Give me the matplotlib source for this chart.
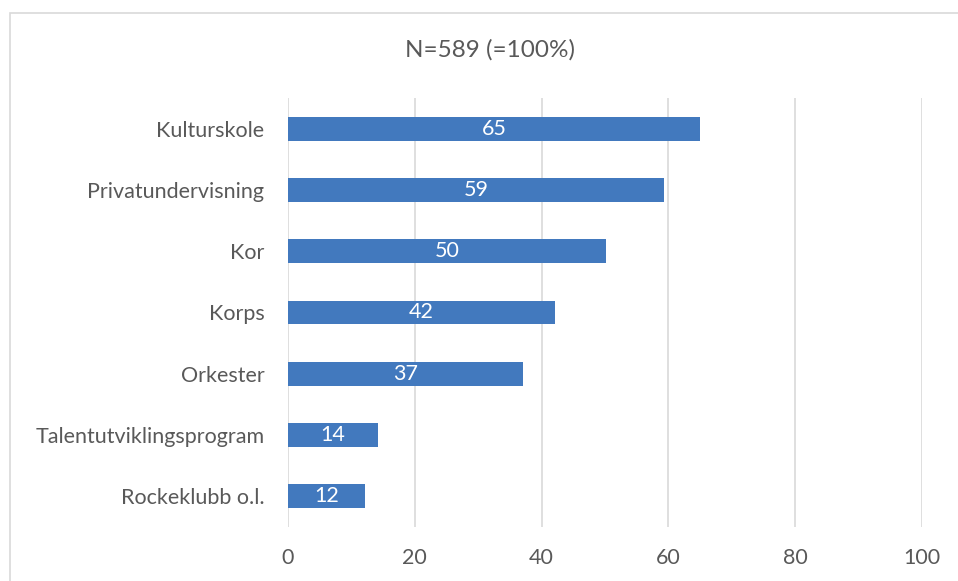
import matplotlib
matplotlib.use("Agg")
import matplotlib.pyplot as plt
from matplotlib.patches import Rectangle

categories = ["Kulturskole", "Privatundervisning", "Kor", "Korps", "Orkester",
              "Talentutviklingsprogram", "Rockeklubb o.l."]
values = [65, 59.3, 50.1, 42.1, 37.1, 14.2, 12.1]
labels = ["65", "59", "50", "42", "37", "14", "12"]
xticks = [0, 20, 40, 60, 80, 100]
title = "N=589 (=100%)"

plt.rcParams['font.family'] = ['Lato', 'DejaVu Sans']
W, H = 958, 581
fig = plt.figure(figsize=(W / 100, H / 100), dpi=100)
fig.patch.set_facecolor('white')

# outer chart border (cropped at right/bottom)
fig.add_artist(Rectangle((10 / W, -0.1), 1.2, (H - 13) / H + 0.1, transform=fig.transFigure,
                         fill=False, edgecolor='#d9d9d9', linewidth=1.2))

ax = fig.add_axes([288 / W, (H - 527) / H, (922 - 288) / W, (527 - 98) / H])
n = len(categories)
ypos = list(range(n))
ax.barh(ypos, values, height=0.39, color='#4279BE', zorder=3)
ax.set_ylim(n - 0.5, -0.5)
ax.set_xlim(0, 100)
ax.set_xticks(xticks)
ax.set_xticklabels([str(t) for t in xticks])
ax.set_yticks(ypos)
ax.set_yticklabels(categories)
ax.tick_params(axis='both', length=0, labelsize=15.5, colors='#595959')
ax.tick_params(axis='x', pad=15)
ax.tick_params(axis='y', pad=17)
ax.grid(axis='x', color='#d9d9d9', linewidth=1.2, zorder=0)
for s in ax.spines.values():
    s.set_visible(False)

for y, v, lab in zip(ypos, values, labels):
    ax.text(v / 2, y, lab, ha='center', va='center', color='white', fontsize=15.5, zorder=4)

fig.text(490 / W, 1 - 50 / H, title, ha='center', va='center', fontsize=17.5, color='#595959')

fig.savefig("out.png", dpi=100)
